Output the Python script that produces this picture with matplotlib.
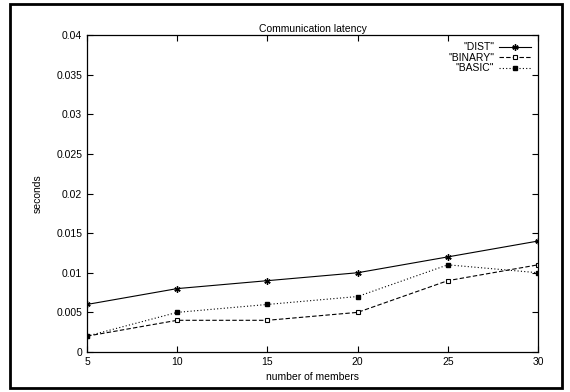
import matplotlib.pyplot as plt
from matplotlib.patches import Rectangle

plt.rcParams["font.family"] = ["Liberation Sans", "DejaVu Sans"]

members = [5, 10, 15, 20, 25, 30]
dist = [0.006, 0.008, 0.009, 0.010, 0.012, 0.014]
binary = [0.002, 0.004, 0.004, 0.005, 0.009, 0.011]
basic = [0.002, 0.005, 0.006, 0.007, 0.011, 0.010]

fig = plt.figure(figsize=(5.7, 3.92), dpi=100)
ax = fig.add_axes([87 / 570, 1 - 352 / 392, (538 - 87) / 570, (352 - 35) / 392])

# outer frame like the gnuplot eps bounding box
fig.patches.append(Rectangle((10 / 570, 1 - 388 / 392), 552 / 570, 384 / 392,
                             transform=fig.transFigure, fill=False,
                             edgecolor="black", linewidth=2))

ax.plot(members, dist, color="black", linestyle="-", linewidth=0.8,
        marker=(6, 2, 0), markersize=4.5, label='"DIST"')
ax.plot(members, binary, color="black", linestyle=(0, (4, 2)), linewidth=0.8,
        marker="s", markersize=3.2, markerfacecolor="white", markeredgewidth=0.8,
        label='"BINARY"')
ax.plot(members, basic, color="black", linestyle=(0, (1, 2)), linewidth=0.8,
        marker="s", markersize=3.2, markerfacecolor="black", label='"BASIC"')

ax.set_xlim(5, 30)
ax.set_ylim(0, 0.04)
ax.set_xticks([5, 10, 15, 20, 25, 30])
ax.set_yticks([0, 0.005, 0.01, 0.015, 0.02, 0.025, 0.03, 0.035, 0.04])
ax.set_yticklabels(["0", "0.005", "0.01", "0.015", "0.02", "0.025", "0.03", "0.035", "0.04"])
ax.tick_params(direction="in", top=True, right=True, labelsize=7.5, length=4, width=0.8)
for s in ax.spines.values():
    s.set_linewidth(0.9)

ax.set_xlabel("number of members", fontsize=7.5, labelpad=4)
ax.set_ylabel("seconds", fontsize=7.5, labelpad=10)
ax.set_title("Communication latency", fontsize=7.5, pad=2)

ax.legend(loc="upper right", frameon=False, markerfirst=False, fontsize=7.5,
          handlelength=3, handletextpad=0.5, labelspacing=0.05,
          borderaxespad=0.3)

fig.savefig("out.png", dpi=100)
